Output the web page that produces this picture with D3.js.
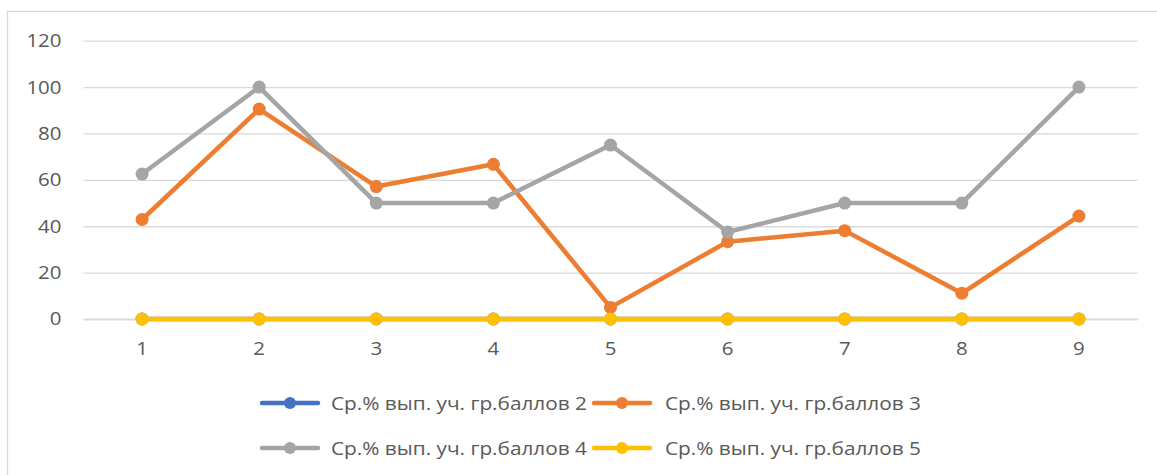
<!DOCTYPE html>
<html><head><meta charset="utf-8">
<script src="https://cdn.jsdelivr.net/npm/d3@7"></script>
<style>body{margin:0;background:#fff}svg{display:block}text{font-family:"Open Sans",sans-serif;fill:#595959}</style>
</head><body><svg id="c" width="1157" height="475"></svg>
<script>
const categories = ["1","2","3","4","5","6","7","8","9"];
const seriesNames = ["Ср.% вып. уч. гр.баллов 2","Ср.% вып. уч. гр.баллов 3","Ср.% вып. уч. гр.баллов 4","Ср.% вып. уч. гр.баллов 5"];
const s2 = [0,0,0,0,0,0,0,0,0];
const s3 = [42.9,90.5,57.1,66.7,5,33.3,38.1,11.1,44.4];
const s4 = [62.5,100,50,50,75,37.5,50,50,100];
const s5 = [0,0,0,0,0,0,0,0,0];
const yTicks = [0,20,40,60,80,100,120];
const colors = ["#4472C4","#ED7D31","#A5A5A5","#FFC000"];
const series = [s2,s3,s4,s5];

const svg = d3.select("#c");
svg.append("rect").attr("x",7.5).attr("y",11.5).attr("width",1160).attr("height",470).attr("fill","none").attr("stroke","#d9d9d9").attr("stroke-width",1.3);
const x = d3.scaleBand().domain(categories).range([83.5,1137.5]);
const y = d3.scaleLinear().domain([0,120]).range([319,40.7]);

const gy = svg.append("g").attr("transform","translate(83.5,0)")
  .call(d3.axisLeft(y).tickValues(yTicks).tickSize(-(1137.5-83.5)).tickPadding(22));
gy.select(".domain").remove();
gy.selectAll("line").attr("stroke","#d9d9d9").attr("stroke-width",1.3);
gy.selectAll("text").attr("font-size",18.5).attr("fill","#595959").attr("font-family","Open Sans, sans-serif")
  .attr("textLength",function(){return this.textContent.length*11.7;}).attr("lengthAdjust","spacingAndGlyphs");

const gx = svg.append("g").attr("transform","translate(0,319)")
  .call(d3.axisBottom(x).tickSize(0).tickPadding(23));
gx.select(".domain").attr("stroke","#d9d9d9").attr("stroke-width",1.3);
gx.selectAll("text").attr("font-size",18.5).attr("fill","#595959").attr("font-family","Open Sans, sans-serif")
  .attr("textLength",11.7).attr("lengthAdjust","spacingAndGlyphs");

const cx = d => x(d) + x.bandwidth()/2;
series.forEach((s,i)=>{
  const line = d3.line().x((d,j)=>cx(categories[j])).y(d=>y(d));
  svg.append("path").datum(s).attr("d",line).attr("fill","none").attr("stroke",colors[i]).attr("stroke-width",4.5).attr("stroke-linejoin","round");
  svg.append("g").selectAll("circle").data(s).join("circle")
    .attr("cx",(d,j)=>cx(categories[j])).attr("cy",d=>y(d)).attr("r",6.5).attr("fill",colors[i]);
});

// legend
const legPos = [[262,403],[594,403],[262,448],[594,448]];
seriesNames.forEach((n,i)=>{
  const [lx,ly] = legPos[i];
  const g = svg.append("g").attr("transform",`translate(${lx},${ly})`);
  g.append("line").attr("x1",0).attr("x2",56).attr("y1",0).attr("y2",0).attr("stroke",colors[i]).attr("stroke-width",4.5).attr("stroke-linecap","round");
  g.append("circle").attr("cx",28).attr("cy",0).attr("r",6).attr("fill",colors[i]);
  g.append("text").attr("x",i%2===0?69:71).attr("y",0).attr("dy","0.36em").attr("font-size",18.5)
    .attr("textLength",256).attr("lengthAdjust","spacingAndGlyphs").text(n);
});
</script></body></html>
